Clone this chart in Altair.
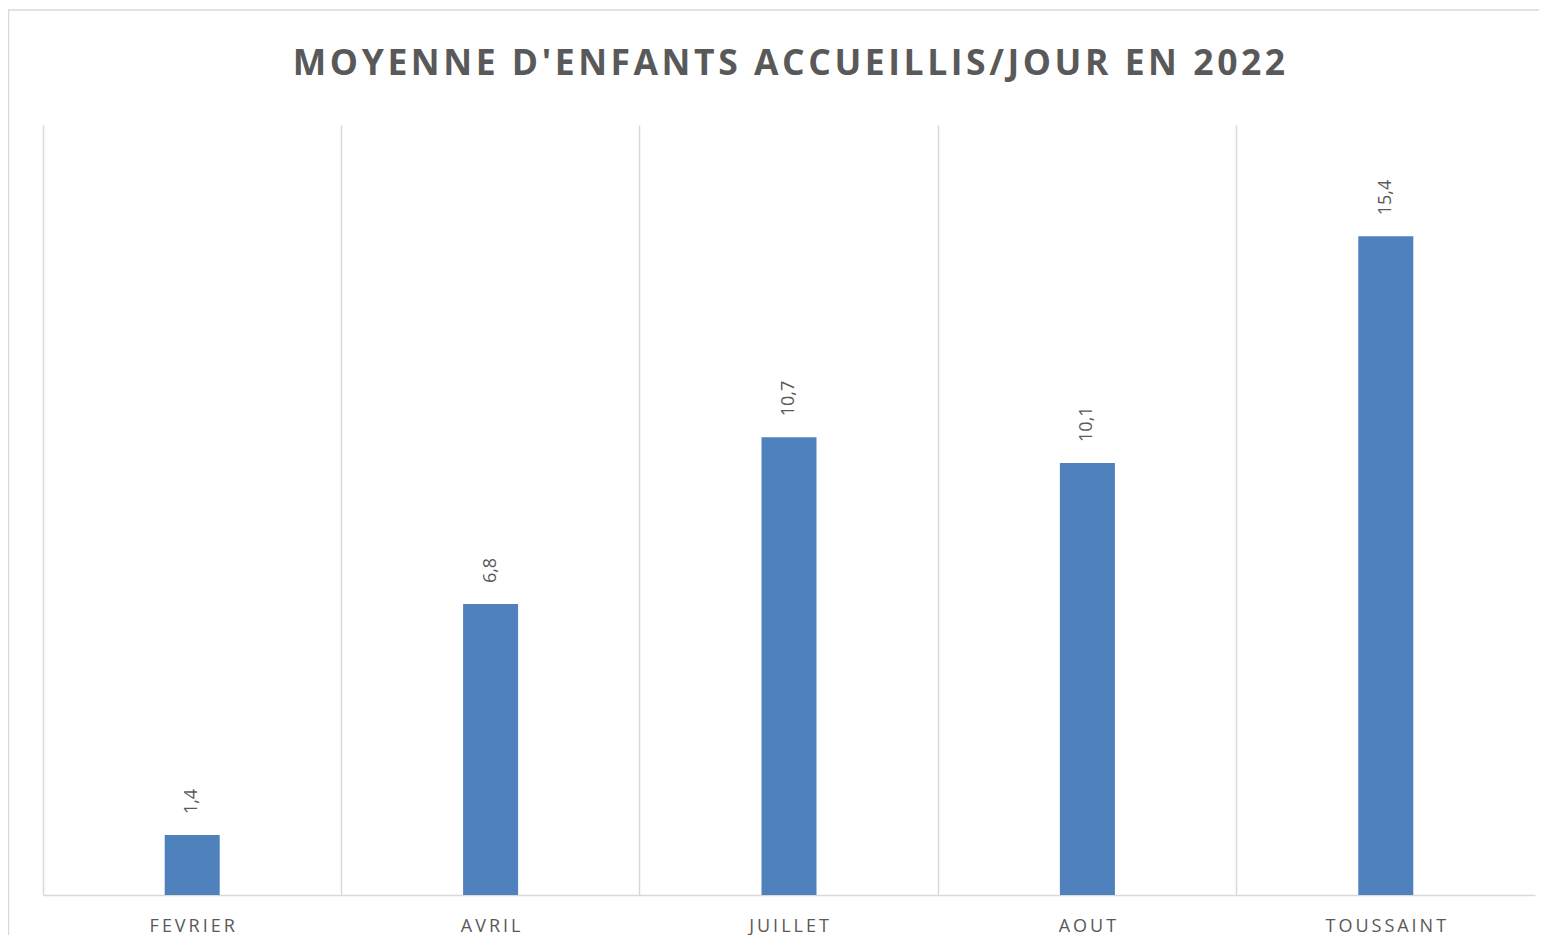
import altair as alt
import pandas as pd

categories = ["FEVRIER", "AVRIL", "JUILLET", "AOUT", "TOUSSAINT"]
values = [1.4, 6.8, 10.7, 10.1, 15.4]
title_text = "MOYENNE D'ENFANTS ACCUEILLIS/JOUR EN 2022"

df = pd.DataFrame({"mois": categories, "valeur": values})

W, H = 1492, 770
GRID = "#d9d9d9"
TXT = "#595959"
FONT = "Open Sans"

spaced_title = "\u200a".join(list(title_text))

xscale = alt.Scale(domain=categories, paddingInner=0, paddingOuter=0)
yscale = alt.Scale(domain=[0, 18])

base = alt.Chart(df)

bars = base.mark_bar(color="#4F81BD", size=55).encode(
    x=alt.X("mois:N", scale=xscale, sort=categories, title=None,
            axis=alt.Axis(grid=False, ticks=False, domain=True, domainColor=GRID,
                          domainWidth=1.5, labelAngle=0, labelFont=FONT,
                          labelFontSize=18, labelColor=TXT, labelPadding=22,
                          labelExpr="join(split(datum.label, ''), '\u2009')")),
    y=alt.Y("valeur:Q", scale=yscale, title=None,
            axis=alt.Axis(orient="right", grid=False, ticks=False, labels=False,
                          domain=True, domainColor=GRID, domainWidth=1.5)),
)

labels = base.transform_calculate(
    lab="replace(format(datum.valeur, '.1f'), '.', ',')"
).mark_text(angle=270, align="left", baseline="middle", dx=21,
            font=FONT, fontSize=18, color=TXT).encode(
    x=alt.X("mois:N", scale=xscale, sort=categories, title=None,
            axis=alt.Axis(orient="top", grid=True, gridColor=GRID, gridWidth=1.5,
                          bandPosition=0, ticks=False, labels=False, domain=False)),
    y=alt.Y("valeur:Q", scale=yscale, axis=None),
    text="lab:N",
)

frame = alt.Chart(pd.DataFrame({"k": [0]})).mark_rect(
    fill=None, stroke=GRID, strokeWidth=1.5
).encode(
    x=alt.value(-34.5), x2=alt.value(W + 200),
    y=alt.value(-115), y2=alt.value(H + 300),
)

chart = alt.layer(frame, bars, labels).resolve_axis(x="independent").properties(
    width=W, height=H,
    title=alt.TitleParams(spaced_title, font=FONT, fontSize=35.5, fontWeight="bold",
                          color=TXT, anchor="middle", baseline="alphabetic", offset=-101),
    autosize=alt.AutoSizeParams(type="none"),
    padding={"left": 35, "top": 117, "right": 4, "bottom": 40},
).configure_view(stroke=None)

chart.save("out.html", embed_options={"renderer": "svg", "actions": False})
